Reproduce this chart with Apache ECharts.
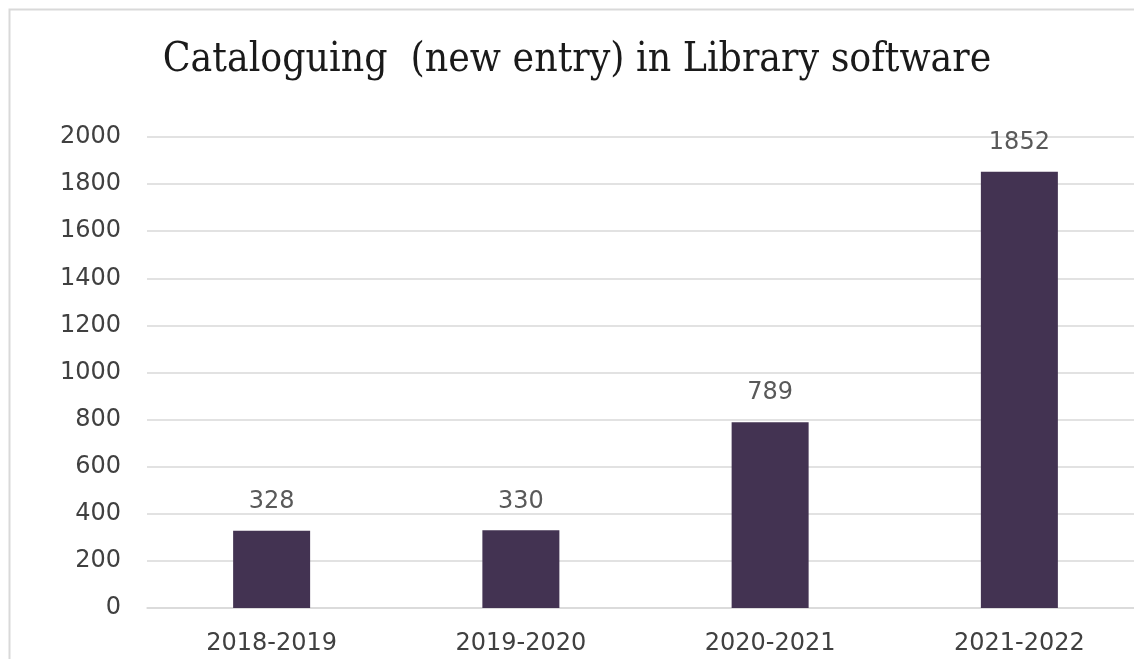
<!DOCTYPE html>
<html>
<head>
<meta charset="utf-8">
<script src="https://cdn.jsdelivr.net/npm/echarts@6/dist/echarts.min.js"></script>
<style>
  html, body { margin: 0; padding: 0; background: #ffffff; }
  #chart { width: 1134px; height: 659px; }
</style>
</head>
<body>
<div id="chart"></div>
<script>
// Yearly count of new catalogue entries
const years = ['2018-2019', '2019-2020', '2020-2021', '2021-2022'];
const entries = [328, 330, 789, 1852];
const yTicks = { min: 0, max: 2000, interval: 200 };

const labelFont = '"DejaVu Sans", sans-serif';

const chart = echarts.init(document.getElementById('chart'), null, { renderer: 'canvas' });

chart.setOption({
  backgroundColor: '#ffffff',
  animation: false,
  graphic: [{
    type: 'rect',
    silent: true,
    z: -1,
    shape: { x: 9.5, y: 9.5, width: 1300, height: 800 },
    style: { fill: 'none', stroke: '#d9d9d9', lineWidth: 2 }
  }],
  title: {
    text: 'Cataloguing  (new entry) in Library software',
    left: 572,
    textAlign: 'center',
    top: 35,
    textStyle: {
      fontFamily: '"DejaVu Serif Condensed", "DejaVu Serif", serif',
      fontWeight: 'normal',
      fontSize: 40.5,
      color: '#1a1a1a'
    }
  },
  grid: {
    left: 147,
    top: 137,
    width: 997,
    height: 471,
    outerBoundsMode: 'none',
    containLabel: false
  },
  xAxis: {
    type: 'category',
    data: years,
    axisLine: { lineStyle: { color: '#d9d9d9', width: 1.5 } },
    axisTick: { show: false },
    axisLabel: {
      margin: 24,
      fontFamily: labelFont,
      fontSize: 24,
      color: '#404040'
    }
  },
  yAxis: {
    type: 'value',
    min: yTicks.min,
    max: yTicks.max,
    interval: yTicks.interval,
    axisLine: { show: false },
    axisTick: { show: false },
    splitLine: { lineStyle: { color: '#d9d9d9', width: 1.5 } },
    axisLabel: {
      margin: 26,
      formatter: (v) => String(v),
      fontFamily: labelFont,
      fontSize: 24,
      color: '#404040'
    }
  },
  series: [{
    type: 'bar',
    data: entries,
    barWidth: 77,
    itemStyle: { color: '#433352' },
    label: {
      show: true,
      position: 'top',
      distance: 17,
      fontFamily: labelFont,
      fontSize: 24,
      color: '#595959'
    }
  }]
});
</script>
</body>
</html>
